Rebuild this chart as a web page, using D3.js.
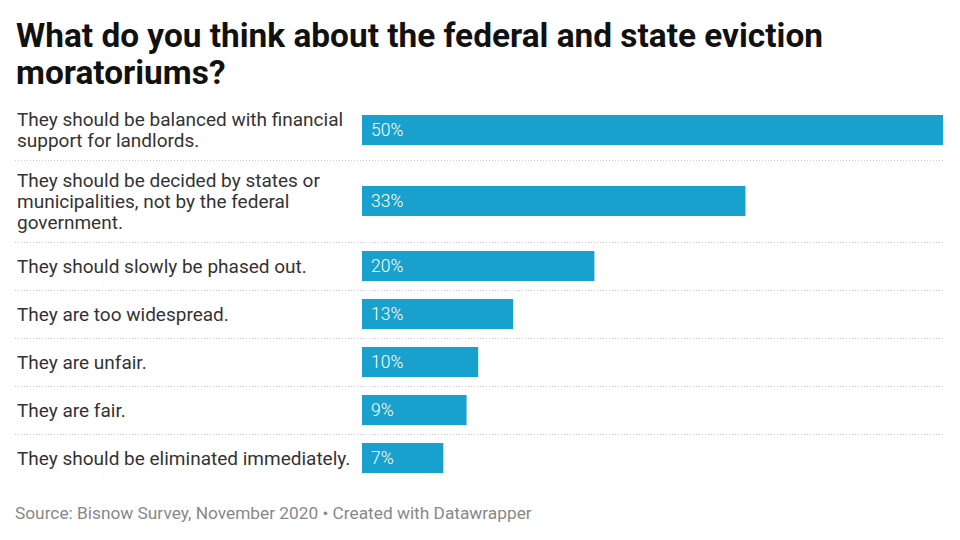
<!DOCTYPE html>
<html>
<head>
<meta charset="utf-8">
<script src="https://cdn.jsdelivr.net/npm/d3@7"></script>
<style>
  body { margin: 0; background: #fff; }
  svg { font-family: Roboto, sans-serif; }
</style>
</head>
<body>
<svg id="chart"></svg>
<script>
// answers, one entry per line of the wrapped label
const answers = [
  ["They should be balanced with financial", "support for landlords."],
  ["They should be decided by states or", "municipalities, not by the federal", "government."],
  ["They should slowly be phased out."],
  ["They are too widespread."],
  ["They are unfair."],
  ["They are fair."],
  ["They should be eliminated immediately."]
];
const shares = [50, 33, 20, 13, 10, 9, 7];
const titleLines = ["What do you think about the federal and state eviction", "moratoriums?"];
const source = "Source: Bisnow Survey, November 2020 \u2022 Created with Datawrapper";

const W = 960, H = 540;
const left = 17, barLeft = 362, right = 943;
const chartTop = 100, lineH = 21, barH = 30;

const svg = d3.select("#chart").attr("width", W).attr("height", H);

svg.selectAll(".title")
  .data(titleLines)
  .join("text")
  .attr("class", "title")
  .attr("x", left - 1)
  .attr("y", (d, i) => 47 + i * 37)
  .attr("font-size", 33.4)
  .attr("font-weight", 700)
  .attr("fill", "#111")
  .text(d => d);

// row heights grow with the number of label lines
const rows = [];
let y0 = chartTop;
answers.forEach((lines, i) => {
  const h = Math.max(48, 16 + 22 * lines.length);
  rows.push({ lines, value: shares[i], y0, h, mid: y0 + h / 2 });
  y0 += h;
});

const x = d3.scaleLinear().domain([0, d3.max(shares)]).range([barLeft, right]);

// dotted separators between rows
svg.selectAll(".sep")
  .data(rows.slice(0, -1))
  .join("line")
  .attr("class", "sep")
  .attr("x1", left - 2)
  .attr("x2", right)
  .attr("y1", d => d.y0 + d.h + 0.5)
  .attr("y2", d => d.y0 + d.h + 0.5)
  .attr("stroke", "#ccc")
  .attr("stroke-dasharray", "1,2");

const g = svg.selectAll(".row").data(rows).join("g").attr("class", "row");

g.append("text")
  .attr("font-size", 19)
  .attr("fill", "#333")
  .selectAll("tspan")
  .data(d => d.lines.map((t, i) => ({ t, y: d.mid - (d.lines.length - 1) * lineH / 2 + 6.5 + i * lineH })))
  .join("tspan")
  .attr("x", left)
  .attr("y", d => d.y)
  .text(d => d.t);

g.append("rect")
  .attr("x", x(0))
  .attr("y", d => d.mid - barH / 2)
  .attr("width", d => x(d.value) - x(0))
  .attr("height", barH)
  .attr("fill", "#18a1cd");

g.append("text")
  .attr("x", x(0) + 9)
  .attr("y", d => d.mid + 6)
  .attr("font-size", 17.5)
  .attr("font-weight", 300)
  .attr("fill", "#fff")
  .text(d => d.value + "%");

svg.append("text")
  .attr("x", 15)
  .attr("y", 519)
  .attr("font-size", 17.3)
  .attr("fill", "#888")
  .text(source);
</script>
</body>
</html>
